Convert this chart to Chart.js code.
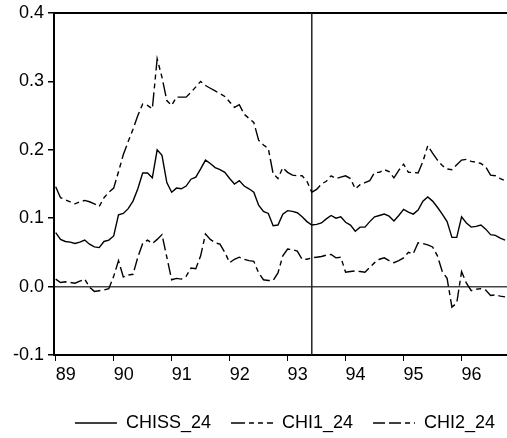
<!DOCTYPE html>
<html>
<head>
<meta charset="utf-8">
<script src="https://cdn.jsdelivr.net/npm/chart.js@4.4.1/dist/chart.umd.min.js"></script>
<style>
  html, body { margin: 0; padding: 0; background: #fff; }
</style>
</head>
<body>
<canvas id="grafico" width="507" height="438"></canvas>
<script>
// monthly values, 1989M1 .. 1996M10 (index 0 = 1989M1)
const chiss24 = [
  0.079, 0.069, 0.066, 0.065, 0.063, 0.065, 0.068, 0.062, 0.058, 0.057,
  0.066, 0.068, 0.074, 0.105, 0.107, 0.114, 0.125, 0.143, 0.166, 0.166,
  0.159, 0.200, 0.192, 0.152, 0.138, 0.144, 0.143, 0.147, 0.157, 0.160,
  0.172, 0.185, 0.180, 0.174, 0.171, 0.167, 0.158, 0.150, 0.155, 0.147,
  0.143, 0.138, 0.119, 0.110, 0.107, 0.089, 0.090, 0.106, 0.111, 0.110,
  0.108, 0.102, 0.095, 0.090, 0.091, 0.093, 0.099, 0.104, 0.100, 0.102,
  0.094, 0.090, 0.081, 0.087, 0.087, 0.095, 0.102, 0.104, 0.106, 0.103,
  0.096, 0.104, 0.113, 0.109, 0.106, 0.112, 0.125, 0.131, 0.125, 0.116,
  0.106, 0.095, 0.072, 0.072, 0.102, 0.093, 0.087, 0.088, 0.090, 0.084,
  0.076, 0.075, 0.071, 0.068
];
const chi1_24 = [
  0.146, 0.130, 0.127, 0.124, 0.121, 0.124, 0.126, 0.124, 0.121, 0.117,
  0.130, 0.138, 0.144, 0.168, 0.193, 0.212, 0.230, 0.250, 0.267, 0.265,
  0.260, 0.333, 0.306, 0.272, 0.265, 0.277, 0.277, 0.277, 0.284, 0.292,
  0.300, 0.294, 0.290, 0.286, 0.282, 0.278, 0.270, 0.262, 0.266, 0.252,
  0.246, 0.240, 0.214, 0.207, 0.202, 0.165, 0.158, 0.174, 0.167, 0.163,
  0.162, 0.162, 0.154, 0.138, 0.142, 0.150, 0.154, 0.162, 0.158, 0.160,
  0.162, 0.158, 0.143, 0.149, 0.152, 0.155, 0.167, 0.167, 0.171, 0.168,
  0.159, 0.170, 0.179, 0.167, 0.167, 0.166, 0.183, 0.206, 0.195, 0.185,
  0.177, 0.172, 0.171, 0.178, 0.185, 0.186, 0.183, 0.182, 0.180, 0.175,
  0.163, 0.162, 0.158, 0.155
];
const chi2_24 = [
  0.011, 0.006, 0.007, 0.006, 0.005, 0.008, 0.011, -0.001, -0.007, -0.006,
  -0.005, -0.003, 0.015, 0.038, 0.014, 0.017, 0.018, 0.043, 0.063, 0.068,
  0.063, 0.069, 0.076, 0.043, 0.010, 0.012, 0.011, 0.015, 0.027, 0.026,
  0.045, 0.077, 0.069, 0.064, 0.062, 0.050, 0.035, 0.040, 0.043, 0.040,
  0.038, 0.037, 0.020, 0.010, 0.009, 0.009, 0.020, 0.045, 0.055, 0.054,
  0.052, 0.040, 0.040, 0.042, 0.043, 0.044, 0.046, 0.047, 0.042, 0.043,
  0.021, 0.022, 0.023, 0.022, 0.021, 0.028, 0.035, 0.040, 0.042, 0.038,
  0.035, 0.038, 0.042, 0.050, 0.048, 0.064, 0.063, 0.061, 0.058, 0.045,
  0.022, 0.012, -0.030, -0.024, 0.022, 0.005, -0.006, -0.004, -0.003, -0.005,
  -0.013, -0.012, -0.014, -0.015
];

const yearTicks = [0, 12, 24, 36, 48, 60, 72, 84];
const yearLabels = ['89', '90', '91', '92', '93', '94', '95', '96'];
const yTicks = [-0.1, 0.0, 0.1, 0.2, 0.3, 0.4];
const markerMonth = 53; // 1993M6

const fuente = { family: '"Liberation Sans", Arial, sans-serif', size: 18, lineHeight: 1 };
const xMin = -0.35, xMax = 93.4;

function puntos(serie) {
  return serie.map((v, i) => ({ x: i, y: v }));
}

// moves the legend right, like in the original
const moverLeyenda = {
  id: 'moverLeyenda',
  afterLayout(chart) {
    const lg = chart.legend;
    lg.left = 40;
    lg.right = 530;
    lg.top += 4;
    lg.bottom += 4;
  }
};

new Chart(document.getElementById('grafico').getContext('2d'), {
  type: 'line',
  data: {
    datasets: [
      { label: 'CHISS_24', data: puntos(chiss24), borderColor: '#000', borderWidth: 1.4 },
      { label: 'CHI1_24', data: puntos(chi1_24), borderColor: '#000', borderWidth: 1.4, borderDash: [14, 4, 5, 4, 5, 4] },
      { label: 'CHI2_24', data: puntos(chi2_24), borderColor: '#000', borderWidth: 1.4, borderDash: [12, 4, 12, 4, 5, 4] },
      {
        label: 'marker',
        data: [{ x: markerMonth, y: yTicks[0] }, { x: markerMonth, y: yTicks[yTicks.length - 1] }],
        borderColor: '#222', borderWidth: 1.5
      }
    ]
  },
  options: {
    responsive: false,
    animation: false,
    layout: { padding: { top: 10, left: 0, right: 0, bottom: 0 } },
    elements: { point: { radius: 0 }, line: { tension: 0 } },
    plugins: {
      tooltip: { enabled: false },
      legend: {
        position: 'bottom',
        labels: {
          filter: item => item.text !== 'marker',
          generateLabels: chart => Chart.defaults.plugins.legend.labels.generateLabels(chart).map(item => {
            const ds = chart.data.datasets[item.datasetIndex];
            item.lineDash = ds.borderDash || [];
            item.lineWidth = ds.borderWidth;
            item.strokeStyle = ds.borderColor;
            return item;
          }),
          usePointStyle: true,
          pointStyle: 'line',
          pointStyleWidth: 42,
          padding: 20,
          color: '#000',
          font: fuente
        }
      }
    },
    scales: {
      x: {
        type: 'linear',
        min: xMin,
        max: xMax,
        afterBuildTicks: s => { s.ticks = yearTicks.map(v => ({ value: v })); },
        afterFit: s => { s.height = 35; },
        ticks: {
          callback: v => yearLabels[yearTicks.indexOf(v)],
          labelOffset: 10,
          padding: 5,
          autoSkip: false,
          maxRotation: 0,
          color: '#000',
          font: fuente
        },
        grid: { drawOnChartArea: false, tickLength: 6, color: '#000' },
        border: { color: '#000', width: 2 }
      },
      xTop: {
        type: 'linear',
        position: 'top',
        min: xMin,
        max: xMax,
        afterFit: s => { s.height = 0; },
        ticks: { display: false },
        grid: { display: false },
        border: { color: '#000', width: 2 }
      },
      y: {
        min: yTicks[0],
        max: yTicks[yTicks.length - 1],
        afterBuildTicks: s => { s.ticks = yTicks.map(v => ({ value: v })); },
        afterFit: s => { s.width = 54; },
        ticks: {
          callback: v => v.toFixed(1),
          padding: 4,
          color: '#000',
          font: fuente
        },
        grid: {
          color: c => (c.tick && c.tick.value === 0 ? '#444' : 'rgba(0,0,0,0)'),
          lineWidth: 1.5,
          tickColor: '#000',
          tickLength: 6
        },
        border: { color: '#000', width: 2 }
      }
    }
  },
  plugins: [moverLeyenda]
});
</script>
</body>
</html>
